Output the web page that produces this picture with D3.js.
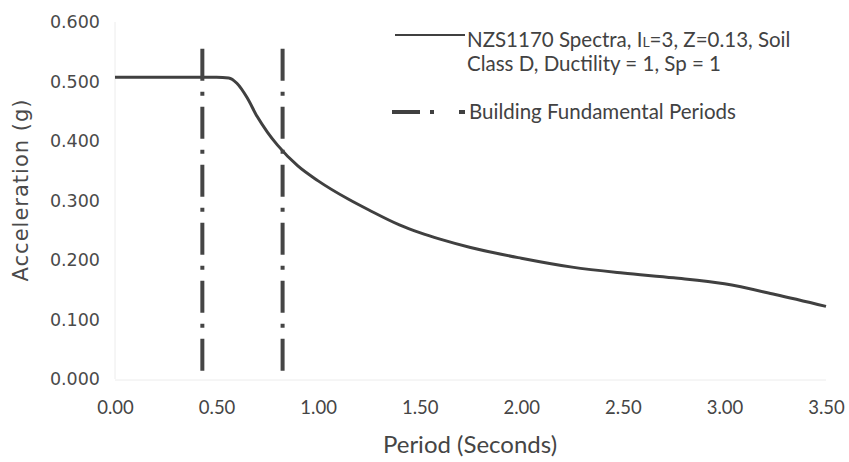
<!DOCTYPE html>
<html>
<head>
<meta charset="utf-8">
<script src="https://cdn.jsdelivr.net/npm/d3@7"></script>
<style>
  body { margin: 0; background: #ffffff; }
  .tick-y { font-family: "DejaVu Sans", sans-serif; font-size: 17.5px; fill: #4a4a4a; }
  .tick-x { font-family: Lato, sans-serif; font-size: 18.5px; fill: #454545; }
  .axis-title { font-family: Lato, sans-serif; font-size: 24px; fill: #454545; }
  .legend-label { font-family: Lato, sans-serif; font-size: 20.5px; fill: #424242; }
</style>
</head>
<body>
<div id="chart"></div>
<script>
// *******************************************
// Data
// *******************************************
const periods = [0, 0.1, 0.2, 0.3, 0.4, 0.5, 0.56, 0.6, 0.65, 0.7, 0.75, 0.8, 0.9, 1.0, 1.15, 1.25, 1.4, 1.5, 1.6, 1.75, 2.0, 2.25, 2.5, 2.75, 3.0, 3.25, 3.5]
const spectra = [0.507, 0.507, 0.507, 0.507, 0.507, 0.507, 0.506, 0.497, 0.473, 0.441, 0.415, 0.393, 0.358, 0.333, 0.302, 0.284, 0.259, 0.246, 0.235, 0.221, 0.203, 0.188, 0.178, 0.170, 0.160, 0.142, 0.122]

const buildingPeriods = [0.43, 0.825]
const buildingLineTop = 0.555

const xTicks = [0, 0.5, 1.0, 1.5, 2.0, 2.5, 3.0, 3.5]
const yTicks = [0, 0.1, 0.2, 0.3, 0.4, 0.5, 0.6]

const legendLabels = ["NZS1170 Spectra, I|L|=3, Z=0.13, Soil", "Class D, Ductility = 1, Sp = 1", "Building Fundamental Periods"]

const width = 849
const height = 462
const margin = {top: 22, right: 23, bottom: 83, left: 115}

// *******************************************
// Scales
// *******************************************
const x = d3.scaleLinear()
  .domain([0, 3.5])
  .range([margin.left, width - margin.right])

const y = d3.scaleLinear()
  .domain([0, 0.6])
  .range([height - margin.bottom, margin.top])

const svg = d3.select("#chart")
  .append("svg")
  .attr("width", width)
  .attr("height", height)
  .style("background-color", "#ffffff")

// faint axis lines
svg.append("line")
  .attr("x1", x(0)).attr("x2", x(0))
  .attr("y1", y(0.6)).attr("y2", y(0))
  .style("stroke", "#ececec")
  .style("stroke-width", 1)

svg.append("line")
  .attr("x1", x(0)).attr("x2", x(3.5))
  .attr("y1", y(0) + 1).attr("y2", y(0) + 1)
  .style("stroke", "#ececec")
  .style("stroke-width", 1)

// *******************************************
// Axes (tick labels only)
// *******************************************
const yAxis = d3.axisLeft(y)
  .tickValues(yTicks)
  .tickFormat(d3.format(".3f"))
  .tickSize(0)
  .tickPadding(15)

svg.append("g")
  .attr("transform", `translate(${margin.left},0)`)
  .call(yAxis)
  .call(g => g.select(".domain").remove())
  .selectAll("text")
  .attr("class", "tick-y")
  .attr("font-family", null)
  .attr("font-size", null)

const xAxis = d3.axisBottom(x)
  .tickValues(xTicks)
  .tickFormat(d3.format(".2f"))
  .tickSize(0)
  .tickPadding(22)

svg.append("g")
  .attr("transform", `translate(0,${y(0)})`)
  .call(xAxis)
  .call(g => g.select(".domain").remove())
  .selectAll("text")
  .attr("class", "tick-x")
  .attr("font-family", null)
  .attr("font-size", null)

svg.selectAll(".tick line").remove()

// axis titles
svg.append("text")
  .attr("class", "axis-title")
  .attr("x", 470)
  .attr("y", 453)
  .attr("text-anchor", "middle")
  .text("Period (Seconds)")

svg.append("text")
  .attr("class", "axis-title")
  .attr("transform", "translate(28,190) rotate(-90)")
  .attr("text-anchor", "middle")
  .style("font-family", "'DejaVu Sans', sans-serif")
  .style("font-size", "21px")
  .style("letter-spacing", "1px")
  .style("fill", "#4a4a4a")
  .text("Acceleration (g)")

// *******************************************
// Spectra line
// *******************************************
const spectraData = periods.map((p, i) => ({period: p, value: spectra[i]}))

const line = d3.line()
  .x(d => x(d.period))
  .y(d => y(d.value))
  .curve(d3.curveMonotoneX)

svg.append("path")
  .datum(spectraData)
  .attr("d", line)
  .style("fill", "none")
  .style("stroke", "#404040")
  .style("stroke-width", 3)

// *******************************************
// Building periods (dash dot)
// *******************************************
svg.selectAll("line.building")
  .data(buildingPeriods)
  .join("line")
  .attr("class", "building")
  .attr("x1", d => x(d)).attr("x2", d => x(d))
  .attr("y1", y(buildingLineTop)).attr("y2", y(0))
  .style("stroke", "#454545")
  .style("stroke-width", 4)
  .style("stroke-dasharray", "32,11,4,11")

// *******************************************
// Legend
// *******************************************
const legend = svg.append("g").attr("class", "legend")

legend.append("line")
  .attr("x1", 395).attr("x2", 465)
  .attr("y1", 35).attr("y2", 35)
  .style("stroke", "#404040")
  .style("stroke-width", 2)

const l1 = legend.append("text")
  .attr("class", "legend-label")
  .attr("x", 467)
  .attr("y", 47)

legendLabels[0].split("|").forEach((part, i) => {
  l1.append("tspan")
    .style("font-size", i === 1 ? "14px" : null)
    .text(part)
})

legend.append("text")
  .attr("class", "legend-label")
  .attr("x", 467)
  .attr("y", 71)
  .text(legendLabels[1])

legend.append("line")
  .attr("x1", 392).attr("x2", 465)
  .attr("y1", 112).attr("y2", 112)
  .style("stroke", "#404040")
  .style("stroke-width", 4)
  .style("stroke-dasharray", "28,10,4,25,6")

legend.append("text")
  .attr("class", "legend-label")
  .attr("x", 469)
  .attr("y", 119)
  .text(legendLabels[2])
</script>
</body>
</html>
